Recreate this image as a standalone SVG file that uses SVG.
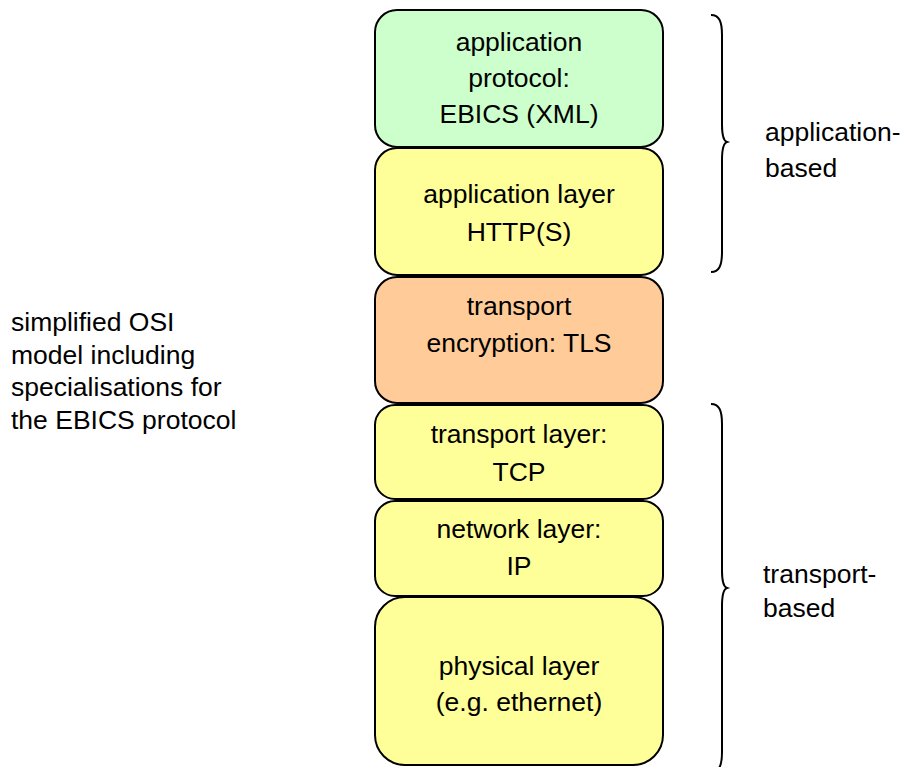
<svg xmlns="http://www.w3.org/2000/svg" width="902" height="767" viewBox="0 0 902 767">
<style>
.box{stroke:#000;stroke-width:2}
.t{font-family:"Liberation Sans",Arial,sans-serif;font-size:26.5px;fill:#000}
.c{text-anchor:middle}
.brace{fill:none;stroke:#000;stroke-width:2}
</style>
<rect width="902" height="767" fill="#fff"/>
<g id="app-protocol">
<rect class="box" x="375" y="10" width="288" height="137" rx="22" fill="#ccffcc"/>
<text class="t c" x="519" y="51">application</text>
<text class="t c" x="519" y="87">protocol:</text>
<text class="t c" x="519" y="123">EBICS (XML)</text>
</g>
<g id="app-layer">
<rect class="box" x="375" y="148" width="288" height="127" rx="22" fill="#ffff99"/>
<text class="t c" x="519" y="203">application layer</text>
<text class="t c" x="519" y="241">HTTP(S)</text>
</g>
<g id="tls">
<rect class="box" x="375" y="277" width="288" height="126" rx="22" fill="#ffcc99"/>
<text class="t c" x="519" y="315">transport</text>
<text class="t c" x="519" y="352">encryption: TLS</text>
</g>
<g id="transport-layer">
<rect class="box" x="375" y="405" width="288" height="94" rx="20" fill="#ffff99"/>
<text class="t c" x="519" y="443">transport layer:</text>
<text class="t c" x="519" y="481">TCP</text>
</g>
<g id="network-layer">
<rect class="box" x="375" y="501" width="288" height="95" rx="20" fill="#ffff99"/>
<text class="t c" x="519" y="538">network layer:</text>
<text class="t c" x="519" y="575">IP</text>
</g>
<g id="physical-layer">
<rect class="box" x="375" y="597" width="288" height="168" rx="30" fill="#ffff99"/>
<text class="t c" x="519" y="675">physical layer</text>
<text class="t c" x="519" y="711">(e.g. ethernet)</text>
</g>
<g id="connectors">
<path class="brace" d="M711,15 C719,15 722,21 722,35 L722,125 C722,136 724,141 727,142 C724,143 722,148 722,160 L722,252 C722,266 719,272 711,272"/>
<path class="brace" d="M711,404 C719,404 722,410 722,424 L722,571 C722,582 724,587 727,588 C724,589 722,594 722,606 L722,752 C722,766 719,772 711,772"/>
</g>
<g id="label-app">
<text class="t" x="765" y="141">application-</text>
<text class="t" x="765" y="177">based</text>
</g>
<g id="label-transport">
<text class="t" x="763" y="583">transport-</text>
<text class="t" x="763" y="617">based</text>
</g>
<g id="caption">
<text class="t" x="11" y="331">simplified OSI</text>
<text class="t" x="11" y="364">model including</text>
<text class="t" x="11" y="396">specialisations for</text>
<text class="t" x="11" y="429">the EBICS protocol</text>
</g>
</svg>
